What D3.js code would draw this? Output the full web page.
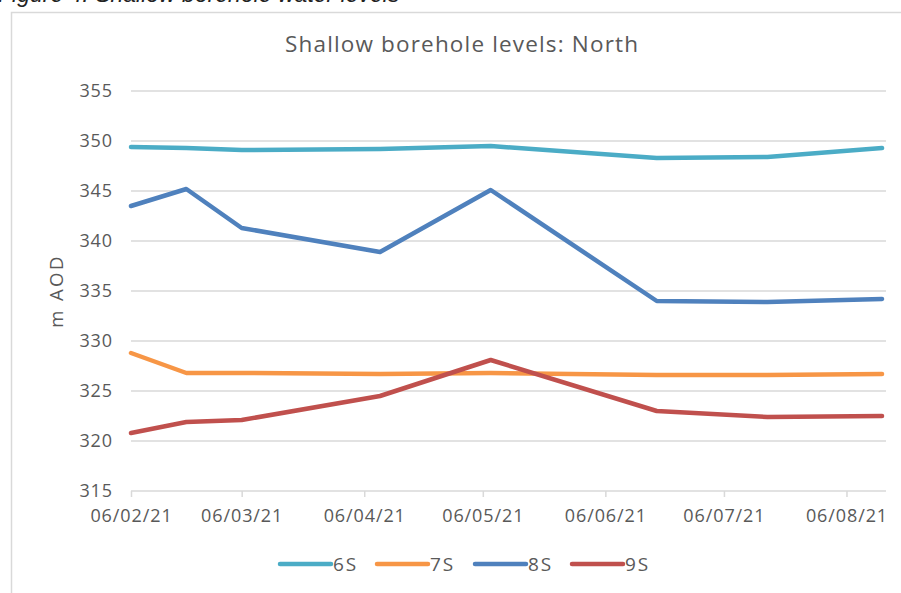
<!DOCTYPE html>
<html><head><meta charset="utf-8">
<script src="https://cdn.jsdelivr.net/npm/d3@7"></script>
<style>body{margin:0;background:#fff;}svg{display:block;}</style>
</head><body>
<svg id="c" width="901" height="593"></svg>
<script>
const dates = ["2021-02-06","2021-02-20","2021-03-06","2021-04-10","2021-05-08","2021-06-19","2021-07-17","2021-08-15"];
const s6 = [349.4, 349.3, 349.1, 349.2, 349.5, 348.3, 348.4, 349.3];
const s7 = [328.8, 326.8, 326.8, 326.7, 326.8, 326.6, 326.6, 326.7];
const s8 = [343.5, 345.2, 341.3, 338.9, 345.1, 334.0, 333.9, 334.2];
const s9 = [320.8, 321.9, 322.1, 324.5, 328.1, 323.0, 322.4, 322.5];
const seriesNames = ["6S","7S","8S","9S"];
const colors = ["#4BACC6","#F79646","#4F81BD","#C0504D"];
const tickDates = ["2021-02-06","2021-03-06","2021-04-06","2021-05-06","2021-06-06","2021-07-06","2021-08-06"];
const yTicks = [315,320,325,330,335,340,345,350,355];
const axisStart = "2021-02-06", axisEnd = "2021-08-16";

const parse = d3.timeParse("%Y-%m-%d");
const fmt = d3.timeFormat("%d/%m/%y");
const svg = d3.select("#c");
const m = {l:131, r:886, t:91, b:491};
const x = d3.scaleTime().domain([parse(axisStart), parse(axisEnd)]).range([m.l, m.r]);
const y = d3.scaleLinear().domain([315,355]).range([m.b, m.t]);
const font = "'Open Sans', sans-serif";
const tc = "#595959";
const fs = 18, ls = 0.9;

// caption (cut off at top, as in the reference)
svg.append("text").attr("x",-2).attr("y",2).attr("font-family","'Liberation Sans', Arial, sans-serif")
  .attr("font-style","italic").attr("font-size",23).attr("fill","#222")
  .text("Figure 4: Shallow borehole water levels");

// frame
svg.append("path").attr("d","M11.5,593 V12.5 H901").attr("fill","none").attr("stroke","#d9d9d9").attr("stroke-width",1.5);

// title
svg.append("text").attr("x",285).attr("y",52)
  .attr("font-family","'Open Sans', sans-serif").attr("font-size",22.5)
  .attr("textLength",353).attr("lengthAdjust","spacing")
  .attr("fill",tc).text("Shallow borehole levels: North");

// gridlines
svg.append("g").selectAll("line").data(yTicks.slice(1)).join("line")
  .attr("x1",m.l).attr("x2",m.r).attr("y1",d=>y(d)).attr("y2",d=>y(d))
  .attr("stroke","#d9d9d9").attr("stroke-width",1.5);

// y axis labels
const ya = svg.append("g").attr("transform",`translate(${m.l},0)`)
  .call(d3.axisLeft(y).tickValues(yTicks).tickSize(0).tickPadding(18).tickFormat(d3.format("d")));
ya.select(".domain").remove();
ya.selectAll("text").attr("font-family",font).attr("font-size",fs).attr("fill",tc).attr("letter-spacing",ls);

// x axis
const xa = svg.append("g").attr("transform",`translate(0,${m.b})`)
  .call(d3.axisBottom(x).tickValues(tickDates.map(parse)).tickSize(6).tickPadding(12).tickFormat(fmt));
xa.select(".domain").attr("stroke","#d9d9d9").attr("stroke-width",1.5).attr("d",`M${m.l},0H${m.r}`);
xa.selectAll(".tick line").attr("stroke","#d9d9d9").attr("stroke-width",1.5);
xa.selectAll("text").attr("font-family",font).attr("font-size",fs).attr("fill",tc).attr("letter-spacing",ls);

// y title
svg.append("text").attr("transform","translate(63,291) rotate(-90)").attr("text-anchor","middle")
  .attr("font-family",font).attr("font-size",18.5).attr("letter-spacing",2.4).attr("fill",tc).text("m AOD");

// lines
const all = [s6,s7,s8,s9];
const line = d3.line().x((d,i)=>x(parse(dates[i]))).y(d=>y(d));
svg.append("g").selectAll("path").data(all).join("path")
  .attr("d",d=>line(d)).attr("fill","none").attr("stroke",(d,i)=>colors[i])
  .attr("stroke-width",4.5).attr("stroke-linejoin","round").attr("stroke-linecap","round");

// legend
const lx = [280, 377, 475, 572];
const lg = svg.append("g").selectAll("g").data(seriesNames).join("g")
  .attr("transform",(d,i)=>`translate(${lx[i]},564)`);
lg.append("line").attr("x1",0).attr("x2",51).attr("stroke",(d,i)=>colors[i])
  .attr("stroke-width",4.5).attr("stroke-linecap","round");
lg.append("text").attr("x",53).attr("y",7).attr("font-family",font).attr("font-size",19)
  .attr("letter-spacing",1.8).attr("fill",tc).text(d=>d);
</script>
</body></html>
